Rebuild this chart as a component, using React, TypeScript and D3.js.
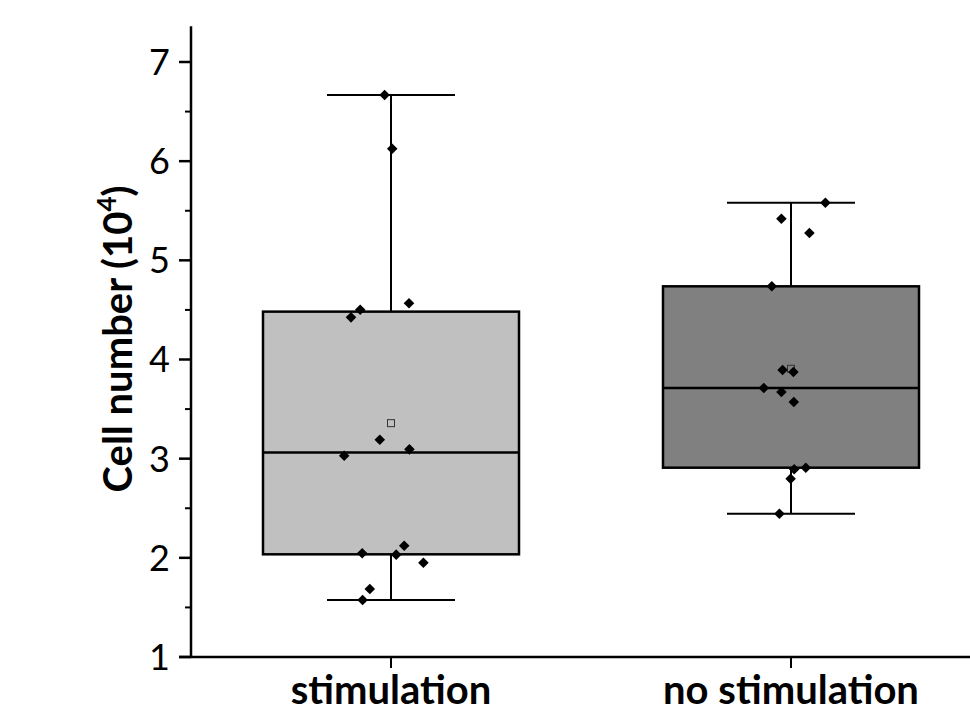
import React, { useEffect, useRef } from "react";
import * as d3 from "d3";

const categories = ["stimulation", "no stimulation"];

// cell numbers (x10^4)
const stimValues = [
  6.667, 6.126, 4.425, 4.502, 4.567, 3.191, 3.094, 3.03, 2.046, 2.122, 2.032,
  1.951, 1.686, 1.575,
];
// horizontal jitter of each point, in category units
const stimJitter = [
  -0.016, 0.003, -0.1, -0.077, 0.045, -0.028, 0.046, -0.117, -0.072, 0.033,
  0.013, 0.081, -0.053, -0.071,
];

const noStimValues = [
  5.581, 5.42, 5.275, 4.738, 3.894, 3.874, 3.713, 3.672, 3.571, 2.893, 2.909,
  2.798, 2.445,
];
const noStimJitter = [
  0.086, -0.024, 0.046, -0.048, -0.021, 0.006, -0.068, -0.024, 0.007, 0.008,
  0.037, -0.001, -0.029,
];

const boxColors = ["#c0c0c0", "#808080"];
const yTicks = [1, 2, 3, 4, 5, 6, 7];
const yMinorTicks = [1.5, 2.5, 3.5, 4.5, 5.5, 6.5];

const W = 970;
const H = 713;
const FONT = "Lato, 'Open Sans', sans-serif";

const App: React.FC = () => {
  const svgRef = useRef<SVGSVGElement>(null);

  useEffect(() => {
    const svg = d3.select(svgRef.current);
    svg.selectAll("*").remove();

    const x = d3.scaleLinear().domain([0.5, 2.5]).range([191, 991]);
    const y = d3.scaleLinear().domain([1, 7.36]).range([657, 26.3]);

    const groups = [
      { name: categories[0], values: stimValues, jitter: stimJitter, color: boxColors[0] },
      { name: categories[1], values: noStimValues, jitter: noStimJitter, color: boxColors[1] },
    ];

    const boxHalf = 0.32;
    const capHalf = 0.16;

    groups.forEach((g, i) => {
      const pos = i + 1;
      const sorted = [...g.values].sort(d3.ascending);
      const q1 = d3.quantile(sorted, 0.25)!;
      const med = d3.quantile(sorted, 0.5)!;
      const q3 = d3.quantile(sorted, 0.75)!;
      const lo = d3.min(sorted)!;
      const hi = d3.max(sorted)!;
      const mean = d3.mean(sorted)!;

      const gg = svg.append("g");
      // whiskers
      gg.append("line")
        .attr("x1", x(pos)).attr("x2", x(pos))
        .attr("y1", y(hi)).attr("y2", y(q3))
        .attr("stroke", "#000").attr("stroke-width", 2);
      gg.append("line")
        .attr("x1", x(pos)).attr("x2", x(pos))
        .attr("y1", y(q1)).attr("y2", y(lo))
        .attr("stroke", "#000").attr("stroke-width", 2);
      [hi, lo].forEach((v) => {
        gg.append("line")
          .attr("x1", x(pos - capHalf)).attr("x2", x(pos + capHalf))
          .attr("y1", y(v)).attr("y2", y(v))
          .attr("stroke", "#000").attr("stroke-width", 2);
      });
      // box
      gg.append("rect")
        .attr("x", x(pos - boxHalf))
        .attr("y", y(q3))
        .attr("width", x(pos + boxHalf) - x(pos - boxHalf))
        .attr("height", y(q1) - y(q3))
        .attr("fill", g.color)
        .attr("stroke", "#000")
        .attr("stroke-width", 2.5);
      gg.append("line")
        .attr("x1", x(pos - boxHalf)).attr("x2", x(pos + boxHalf))
        .attr("y1", y(med)).attr("y2", y(med))
        .attr("stroke", "#000").attr("stroke-width", 2.5);
      // mean
      gg.append("rect")
        .attr("x", x(pos) - 3.5).attr("y", y(mean) - 3.5)
        .attr("width", 7).attr("height", 7)
        .attr("fill", "none").attr("stroke", "#333").attr("stroke-width", 1);
      // points
      const sym = d3.symbol(d3.symbolSquare, 56);
      gg.selectAll("path.pt")
        .data(g.values)
        .join("path")
        .attr("class", "pt")
        .attr("d", sym()!)
        .attr("fill", "#000")
        .attr("transform", (d, j) => `translate(${x(pos + g.jitter[j])},${y(d)}) rotate(45)`);
    });

    // y axis
    const ax = svg.append("g");
    ax.append("line")
      .attr("x1", 191).attr("x2", 191)
      .attr("y1", y(7.36)).attr("y2", y(1))
      .attr("stroke", "#000").attr("stroke-width", 2.5);
    yTicks.forEach((t) => {
      ax.append("line")
        .attr("x1", 179).attr("x2", 191)
        .attr("y1", y(t)).attr("y2", y(t))
        .attr("stroke", "#000").attr("stroke-width", 2.5);
      ax.append("text")
        .attr("x", 170).attr("y", y(t))
        .attr("dy", "0.36em")
        .attr("text-anchor", "end")
        .attr("font-family", FONT)
        .attr("font-size", 36)
        .text(t);
    });
    yMinorTicks.forEach((t) => {
      ax.append("line")
        .attr("x1", 185).attr("x2", 191)
        .attr("y1", y(t)).attr("y2", y(t))
        .attr("stroke", "#000").attr("stroke-width", 2);
    });

    // x axis
    ax.append("line")
      .attr("x1", 179).attr("x2", W)
      .attr("y1", y(1)).attr("y2", y(1))
      .attr("stroke", "#000").attr("stroke-width", 2.5);
    categories.forEach((c, i) => {
      ax.append("line")
        .attr("x1", x(i + 1)).attr("x2", x(i + 1))
        .attr("y1", y(1)).attr("y2", y(1) + 11)
        .attr("stroke", "#000").attr("stroke-width", 2);
      ax.append("text")
        .attr("x", x(i + 1)).attr("y", 704)
        .attr("text-anchor", "middle")
        .attr("font-family", FONT)
        .attr("font-weight", "bold")
        .attr("font-size", 40)
        .text(c);
    });

    // y label
    const lab = svg.append("text")
      .attr("transform", "translate(132,339) rotate(-90)")
      .attr("text-anchor", "middle")
      .attr("font-family", FONT)
      .attr("font-weight", "bold")
      .attr("font-size", 40);
    lab.append("tspan").text("Cell number (10");
    lab.append("tspan").attr("dy", -16).attr("font-size", 26).text("4");
    lab.append("tspan").attr("dy", 16).text(")");
  }, []);

  return (
    <div style={{ position: "absolute", left: 0, top: 0 }}>
      <svg ref={svgRef} width={W} height={H} style={{ display: "block", background: "#fff" }} />
    </div>
  );
};

export default App;
